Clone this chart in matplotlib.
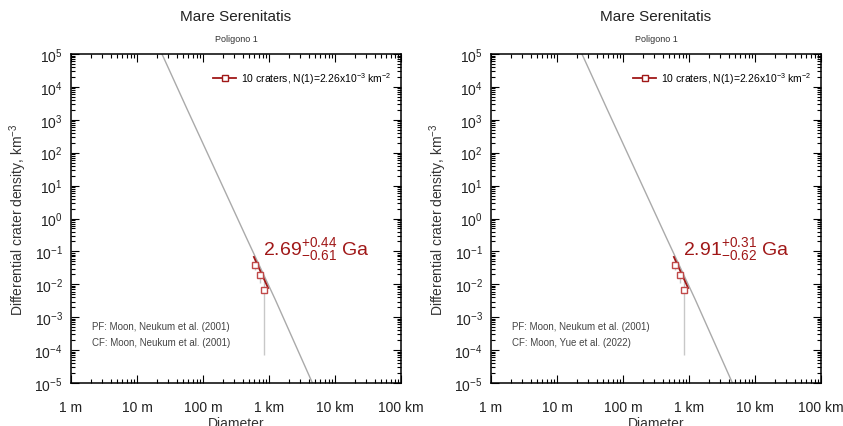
import matplotlib.pyplot as plt
from matplotlib.ticker import LogLocator, NullFormatter, FixedLocator, FixedFormatter

plt.rcParams['font.family'] = ['Liberation Sans', 'DejaVu Sans']
plt.rcParams['mathtext.fontset'] = 'custom'
plt.rcParams['mathtext.rm'] = 'Liberation Sans'
plt.rcParams['mathtext.it'] = 'Liberation Sans'

# production function, D in km, N in km^-3
pf_d = [0.0239, 0.0573, 0.1346, 0.464, 1.233, 4.48, 5.6]
pf_n = [1e5, 2130, 52, 0.238, 3.57e-3, 1.07e-5, 3.5e-6]

# measured craters
crater_d = [0.61, 0.73, 0.84]
crater_n = [0.039, 0.019, 0.0068]
err_lo = [0.012, 0.008, 0.00673]
err_hi = [0.02, 0.012, 0.006]

# fitted isochron segment
fit_d = [0.59, 0.97]
fit_n = [0.068, 0.0077]

x_ticks = [1e-3, 1e-2, 1e-1, 1, 10, 100]
x_labels = ['1 m', '10 m', '100 m', '1 km', '10 km', '100 km']

panels = [
    dict(age='2.69', plus='0.44', minus='0.61',
         cf='CF: Moon, Neukum et al. (2001)'),
    dict(age='2.91', plus='0.31', minus='0.62',
         cf='CF: Moon, Yue et al. (2022)'),
]

red = '#a01818'

fig = plt.figure(figsize=(8.43, 4.27), dpi=100)
lefts = [71 / 843, 491 / 843]

for left, p in zip(lefts, panels):
    ax = fig.add_axes([left, 43 / 427, 330 / 843, 329 / 427])
    ax.set_xscale('log')
    ax.set_yscale('log')
    ax.set_xlim(1e-3, 100)
    ax.set_ylim(1e-5, 1e5)

    ax.plot(pf_d, pf_n, color='#aaaaaa', lw=1.0, zorder=1)
    ax.errorbar(crater_d, crater_n, yerr=[err_lo, err_hi], fmt='none',
                ecolor='#c8c8c8', elinewidth=1.0, zorder=2)
    ax.plot(fit_d, fit_n, color=red, lw=1.3, zorder=3)
    ax.plot(crater_d, crater_n, 's', ms=4.5, mfc='white', mec='#c04848',
            mew=1.0, zorder=4)

    # legend
    ax.plot([], [], color=red, lw=1.3, marker='s', ms=4, mfc='white',
            mec=red, label=r'10 craters, N(1)=2.26x10$^{-3}$ km$^{-2}$')
    ax.legend(loc='upper right', frameon=False, fontsize=7.5,
              handlelength=2.2, handletextpad=0.5,
              bbox_to_anchor=(1.0, 0.98))

    ax.text(0.582, 0.41,
            r'$%s^{+%s}_{-%s}$ Ga' % (p['age'], p['plus'], p['minus']),
            transform=ax.transAxes, color=red, fontsize=14, va='center')

    ax.text(0.065, 0.165, 'PF: Moon, Neukum et al. (2001)',
            transform=ax.transAxes, fontsize=7, color='#444444')
    ax.text(0.065, 0.115, p['cf'], transform=ax.transAxes,
            fontsize=7, color='#444444')

    ax.xaxis.set_major_locator(FixedLocator(x_ticks))
    ax.xaxis.set_major_formatter(FixedFormatter(x_labels))
    ax.xaxis.set_minor_locator(LogLocator(base=10, subs=range(2, 10), numticks=20))
    ax.xaxis.set_minor_formatter(NullFormatter())
    ax.yaxis.set_major_locator(LogLocator(base=10, numticks=20))
    ax.yaxis.set_minor_locator(LogLocator(base=10, subs=range(2, 10), numticks=20))
    ax.yaxis.set_minor_formatter(NullFormatter())

    ax.tick_params(which='both', direction='in', top=True, right=True,
                   width=0.8, labelsize=10, labelcolor='#222222')
    ax.tick_params(which='major', length=6)
    ax.tick_params(which='minor', length=3)
    ax.tick_params(axis='x', pad=12)
    ax.tick_params(axis='y', pad=6)
    for s in ax.spines.values():
        s.set_linewidth(1.1)

    ax.set_xlabel('Diameter', fontsize=10, labelpad=2, color='#333333')
    ax.set_ylabel('Differential crater density, km$^{-3}$', fontsize=10,
                  labelpad=4, color='#333333')
    ax.set_title('Poligono 1', fontsize=6.5, pad=9, color='#333333')
    fig.text(left + 165 / 843, 1 - 17 / 427, 'Mare Serenitatis',
             ha='center', va='center', fontsize=11, color='#222222')

fig.savefig('out.png', dpi=100)
